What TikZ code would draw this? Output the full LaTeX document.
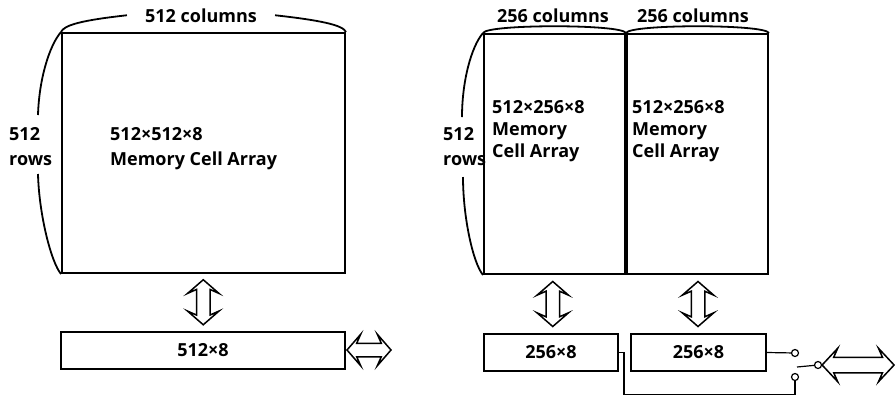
\documentclass[tikz,border=0pt]{standalone}
\usepackage{fontspec}
\setmainfont{Open Sans}
\usetikzlibrary{shapes.arrows, positioning, calc}

\begin{document}
\begin{tikzpicture}[
    x=1pt, y=-1pt,
    lbl/.style={font=\fontsize{18}{22}\selectfont\bfseries, inner sep=0pt, align=left},
    cell/.style={rectangle, draw, line width=2pt, minimum width=#1,
                 minimum height=240pt, anchor=north west, inner sep=0pt},
    buffer/.style={rectangle, draw, line width=2pt, minimum width=#1,
                   minimum height=37pt, inner sep=0pt,
                   font=\fontsize{18}{22}\selectfont\bfseries},
    dbl/.style={double arrow, draw, line width=1.5pt, inner sep=6pt,
                minimum height=#1, double arrow head extend=9pt,
                double arrow tip angle=98, double arrow head indent=4pt},
    brace/.style={line width=1.8pt},
    wire/.style={line width=1.2pt},
    contact/.style={circle, draw, line width=1.2pt, inner sep=0pt,
                    minimum size=7pt, fill=white}
]
\useasboundingbox (0,0) rectangle (895,400);

% one 512-column array
\node[cell=283pt] (arr) at (61,32) {};
\node[buffer=284pt] (buf) at (203,350) {512×8};
\node[lbl, anchor=north west] (arrtxt) at (110,127) {512×512×8\\[3pt]Memory Cell Array};
\node[lbl, anchor=base] (cols) at (201,22) {512 columns};
\node[lbl, anchor=north west] (rows) at (9,127) {512\\[3pt]rows};
\coordinate (rtop) at (38,115);
\coordinate (rbot) at (38,174);

\draw[brace] (arr.north west) .. controls +(3,-7) and +(-45,5) .. ($(cols.west)+(-18,0)$);
\draw[brace] ($(cols.east)+(18,0)$) .. controls +(45,5) and +(-3,-7) .. (arr.north east);
\draw[brace] (arr.north west) .. controls +(-12,14) and +(1,-35) .. (rtop);
\draw[brace] (rbot) .. controls +(1,40) and +(-10,-12) .. (arr.south west);

\path (arr.south) -- (buf.north) node[dbl=45pt, midway, shape border rotate=90] (io) {};
\node[dbl=44pt] (out) at ($(buf.east)+(23,0)$) {};

% two 256-column halves
\node[cell=141pt] (half1) at (483,33) {};
\node[cell=141pt] (half2) at (half1.north east) {};
\node[lbl, anchor=north west] (h1txt) at (492,100) {512×256×8\\Memory\\Cell Array};
\node[lbl, anchor=north west] (h2txt) at (632,100) {512×256×8\\Memory\\Cell Array};
\node[lbl, anchor=base] (cols1) at (553,22) {256 columns};
\node[lbl, anchor=base] (cols2) at (693,22) {256 columns};
\node[lbl, anchor=north west] (rows2) at (443,127) {512\\[3pt]rows};
\coordinate (rtop2) at (462,117);
\coordinate (rbot2) at (463,177);

\draw[brace] (half1.north west) .. controls +(4,-9) and +(-4,-9) .. (half1.north east);
\draw[brace] (half2.north west) .. controls +(4,-9) and +(-4,-9) .. (half2.north east);
\draw[brace] (half1.north west) .. controls +(-12,14) and +(0,-35) .. (rtop2);
\draw[brace] (rbot2) .. controls +(0,40) and +(-10,-12) .. (half1.south west);

\node[buffer=134pt] (buf2) at (551,352.5) {256×8};
\node[buffer=135pt] (buf3) at (698.5,352.5) {256×8};
\path (half1.south) -- (buf2.north) node[dbl=45pt, midway, shape border rotate=90] (io2) {};
\path (half2.south) -- (buf3.north) node[dbl=45pt, midway, shape border rotate=90] (io3) {};

% selector switch
\node[contact] (up) at (795,353) {};
\node[contact] (dn) at (795,377) {};
\node[contact] (com) at (818,365) {};
\coordinate (blade) at (797,367);
\draw[wire] (buf3.east) -- (up);
\draw[wire] (blade) -- (com);
\draw[wire] (buf2.east) -- ++(5,0) -- ++(0,42) -| (dn);
\node[dbl=72pt, inner sep=7pt, double arrow tip angle=94] (bus) at ($(com.east)+(36,0)$) {};

\end{tikzpicture}
\end{document}
